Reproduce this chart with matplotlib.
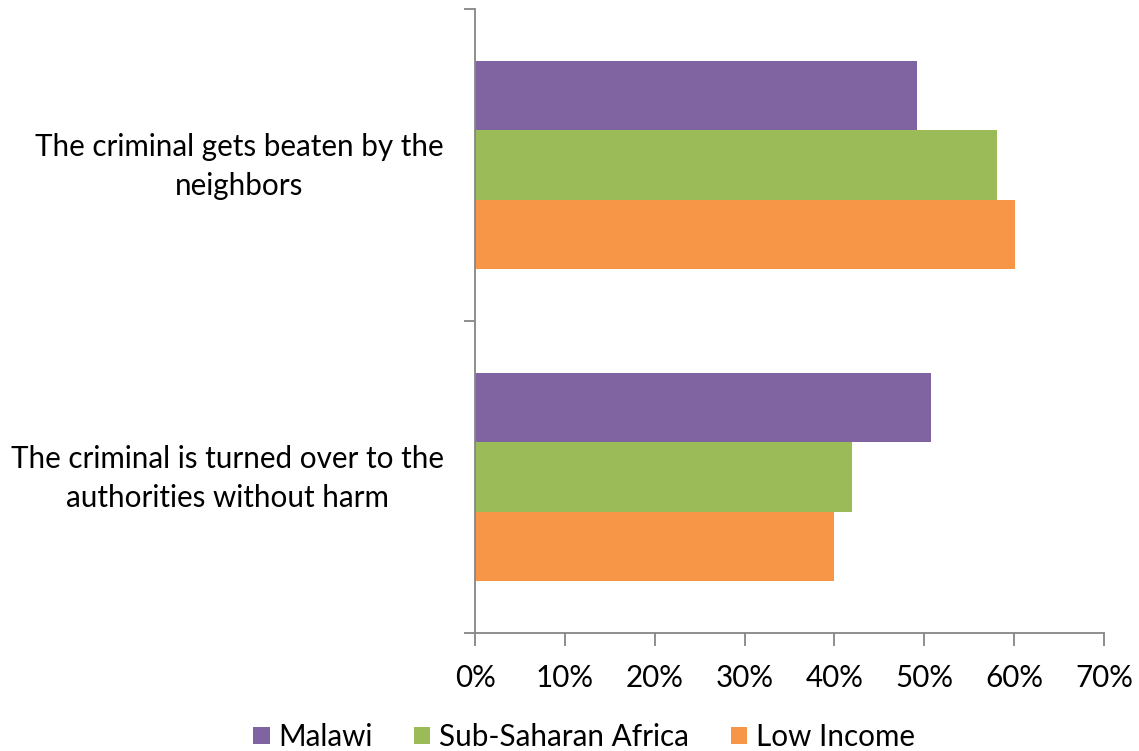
import numpy as np
import matplotlib.pyplot as plt
from matplotlib.ticker import PercentFormatter
from matplotlib.transforms import ScaledTranslation

plt.rcParams['font.family'] = ['Lato', 'DejaVu Sans']

categories = ["The criminal gets beaten by the\nneighbors",
              "The criminal is turned over to the\nauthorities without harm"]
series = ["Malawi", "Sub-Saharan Africa", "Low Income"]
malawi = [49.2, 50.8]
ssa = [58.1, 42.0]
low_income = [60.1, 40.0]
colors = ["#8064A2", "#9BBB59", "#F79646"]

fig = plt.figure(figsize=(11.39, 7.51), dpi=100)
ax = fig.add_axes([475 / 1139, 1 - 633 / 751, 629 / 1139, 624 / 751])

y = np.arange(len(categories))
h = 0.223
for i, (vals, name, c) in enumerate(zip([malawi, ssa, low_income], series, colors)):
    ax.barh(y + (i - 1) * h, vals, height=h, color=c, label=name)

ax.set_ylim(1.5, -0.5)
ax.set_xlim(0, 70)
ax.set_xticks(np.arange(0, 71, 10))
ax.xaxis.set_major_formatter(PercentFormatter(decimals=0))
ax.set_yticks([-0.5, 0.5, 1.5])
ax.set_yticklabels([])

# etiquetas de categoria (bloque alineado a la derecha, lineas centradas)
shift = ScaledTranslation(0, -0.015, fig.dpi_scale_trans)
for yi, cat in zip(y, categories):
    ax.text(-0.05, yi, cat, transform=ax.get_yaxis_transform() + shift,
            ha='right', va='center', multialignment='center',
            fontsize=21.3, linespacing=1.5)

for s in ["top", "right"]:
    ax.spines[s].set_visible(False)
for s in ["left", "bottom"]:
    ax.spines[s].set_color("#868686")
    ax.spines[s].set_linewidth(1.3)
ax.tick_params(axis='y', which='major', length=8, color="#868686", width=1.3)
ax.tick_params(axis='x', length=9, color="#868686", width=1.3, labelsize=21.3, pad=13)

handles, labels = ax.get_legend_handles_labels()
fig.legend(handles, labels, loc='center', bbox_to_anchor=(584 / 1139, 1 - 737 / 751), ncol=3,
           frameon=False, fontsize=21.3, handlelength=0.55, handleheight=0.55,
           columnspacing=1.4, handletextpad=0.3, borderaxespad=0, borderpad=0)

fig.savefig("out.png", dpi=100)
